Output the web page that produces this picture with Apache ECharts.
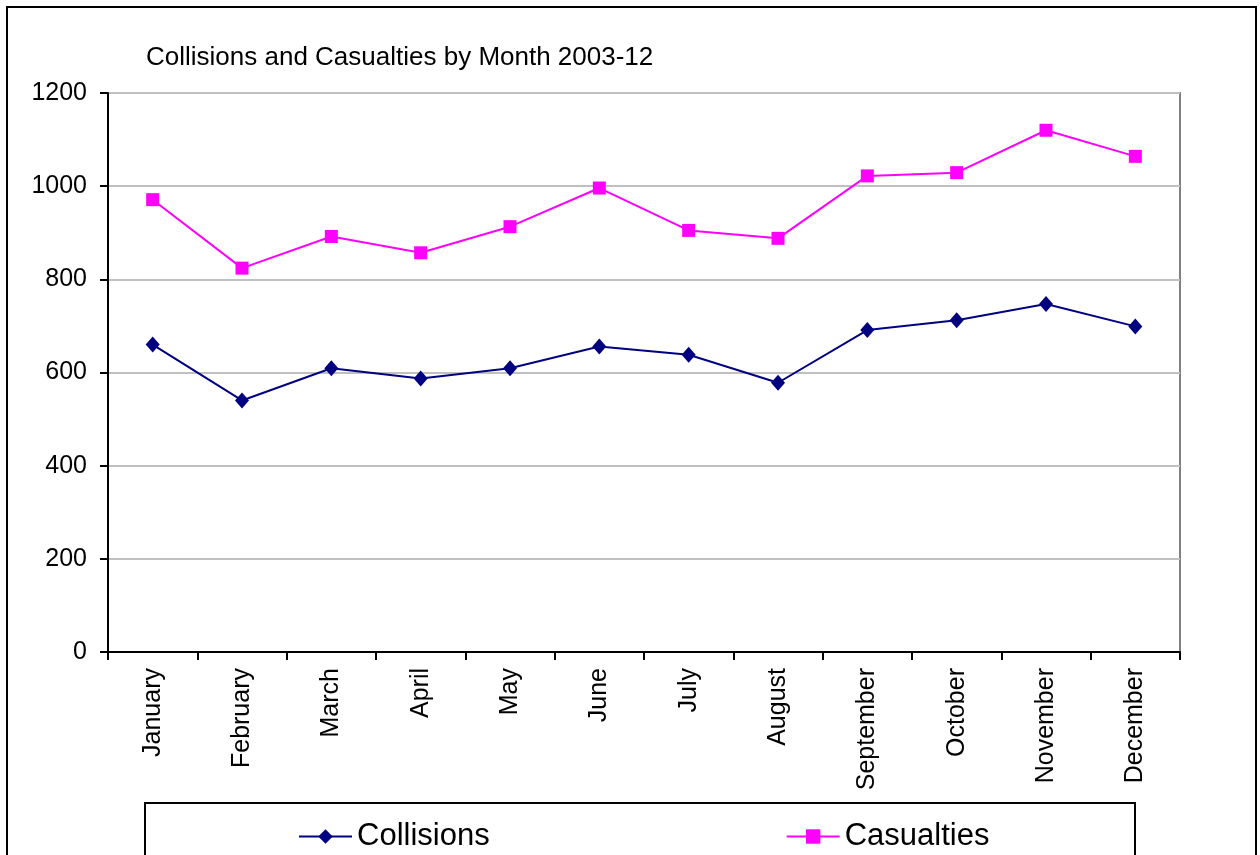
<!DOCTYPE html>
<html lang="en">
<head>
    <meta charset="UTF-8">
    <title>Collisions and Casualties by Month</title>
    <script src="https://cdn.jsdelivr.net/npm/echarts@6/dist/echarts.min.js"></script>
    <style>
        html, body { margin: 0; padding: 0; background: #fff; }
    </style>
</head>
<body>
<div id="chartmain" style="width:1260px; height:855px;"></div>
<script type="text/javascript">

    var months = ['January', 'February', 'March', 'April', 'May', 'June',
                  'July', 'August', 'September', 'October', 'November', 'December'];
    var collisions = [660, 540, 609, 587, 609, 656, 638, 578, 691, 712, 747, 699];   // 碰撞
    var casualties = [971, 824, 892, 857, 913, 996, 905, 888, 1022, 1029, 1120, 1064]; // 伤亡
    var yTicks = [0, 200, 400, 600, 800, 1000, 1200];

    var font = 'Liberation Sans, Arial, sans-serif';

    var option = {
        animation: false,
        backgroundColor: '#fff',
        title: {
            text: 'Collisions and Casualties by Month 2003-12',
            left: 141,
            top: 40,
            textStyle: { fontFamily: font, fontSize: 26, fontWeight: 'normal', color: '#000' }
        },
        legend: {
            data: ['Collisions', 'Casualties'],
            left: 293,
            top: 816,
            itemWidth: 53,
            itemHeight: 18,
            itemGap: 296,
            textStyle: { fontFamily: font, fontSize: 31, color: '#000' }
        },
        grid: {
            left: 108,
            right: 80,
            top: 93,
            bottom: 203,
            show: true,
            borderColor: '#808080',
            borderWidth: 2
        },
        xAxis: {
            type: 'category',
            data: months,
            boundaryGap: true,
            axisLine: { lineStyle: { color: '#000', width: 2 } },
            axisTick: { show: true, length: 8, interval: 0, lineStyle: { color: '#000', width: 2 } },
            axisLabel: {
                interval: 0,
                rotate: 90,
                margin: 16,
                fontFamily: font,
                fontSize: 25,
                color: '#000'
            }
        },
        yAxis: {
            type: 'value',
            min: yTicks[0],
            max: yTicks[yTicks.length - 1],
            interval: yTicks[1] - yTicks[0],
            axisLine: { show: true, lineStyle: { color: '#000', width: 2 } },
            axisTick: { show: true, length: 8, lineStyle: { color: '#000', width: 2 } },
            axisLabel: {
                margin: 21,
                fontFamily: font,
                fontSize: 25,
                color: '#000',
                formatter: function (v) { return String(v); }
            },
            splitLine: { lineStyle: { color: '#c0c0c0', width: 2 } }
        },
        graphic: [
            {
                type: 'rect',
                shape: { x: 7, y: 7, width: 1249, height: 900 },
                style: { fill: 'none', stroke: '#000', lineWidth: 2 },
                silent: true
            },
            {
                type: 'rect',
                shape: { x: 145, y: 803, width: 990, height: 100 },
                style: { fill: 'none', stroke: '#000', lineWidth: 2 },
                silent: true
            }
        ],
        series: [
            {
                name: 'Collisions',
                type: 'line',
                data: collisions,
                symbol: 'diamond',
                symbolSize: [14, 16],
                itemStyle: { color: '#000080' },
                lineStyle: { color: '#000080', width: 2 }
            },
            {
                name: 'Casualties',
                type: 'line',
                data: casualties,
                symbol: 'rect',
                symbolSize: 13,
                itemStyle: { color: '#ff00ff' },
                lineStyle: { color: '#ff00ff', width: 2 }
            }
        ]
    };

    var myChart = echarts.init(document.getElementById('chartmain'));
    myChart.setOption(option);
</script>
</body>
</html>
